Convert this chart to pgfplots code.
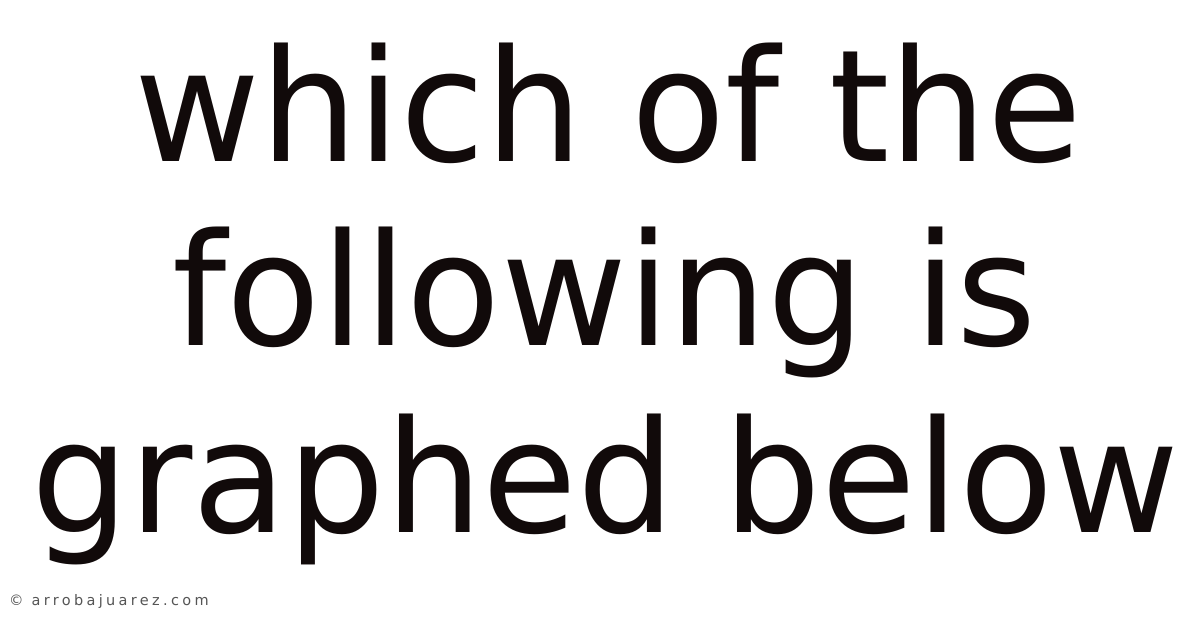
\documentclass[border=0pt]{standalone}
\usepackage{fontspec}
\setmainfont{DejaVu Sans}
\newfontfamily\wm[LetterSpace=23]{DejaVu Sans}
\usepackage{pgfplots}
\pgfplotsset{compat=1.18}
\definecolor{ink}{RGB}{17,10,10}
\definecolor{wmgray}{RGB}{85,85,85}
\begin{document}
\begin{tikzpicture}
\begin{axis}[
  width=1200bp, height=628bp, scale only axis,
  xmin=0, xmax=1200, ymin=0, ymax=628,
  hide axis, clip=false,
]
\addplot[draw=none, forget plot] coordinates {(0,0) (1200,628)};
\node[anchor=base west, inner sep=0pt, xscale=0.987, text=ink, font=\fontsize{156bp}{185bp}\selectfont] at (axis cs:134,466) {which of the};
\node[anchor=base west, inner sep=0pt, xscale=0.987, text=ink, font=\fontsize{156bp}{185bp}\selectfont] at (axis cs:172.6,282) {following is};
\node[anchor=base west, inner sep=0pt, xscale=0.987, text=ink, font=\fontsize{156bp}{185bp}\selectfont] at (axis cs:31.6,96) {graphed below};
\node[anchor=base west, inner sep=0pt, text=wmgray, font=\wm\fontsize{14.5bp}{16bp}\selectfont] at (axis cs:9,23) {© arrobajuarez.com};
\end{axis}
\end{tikzpicture}
\end{document}
